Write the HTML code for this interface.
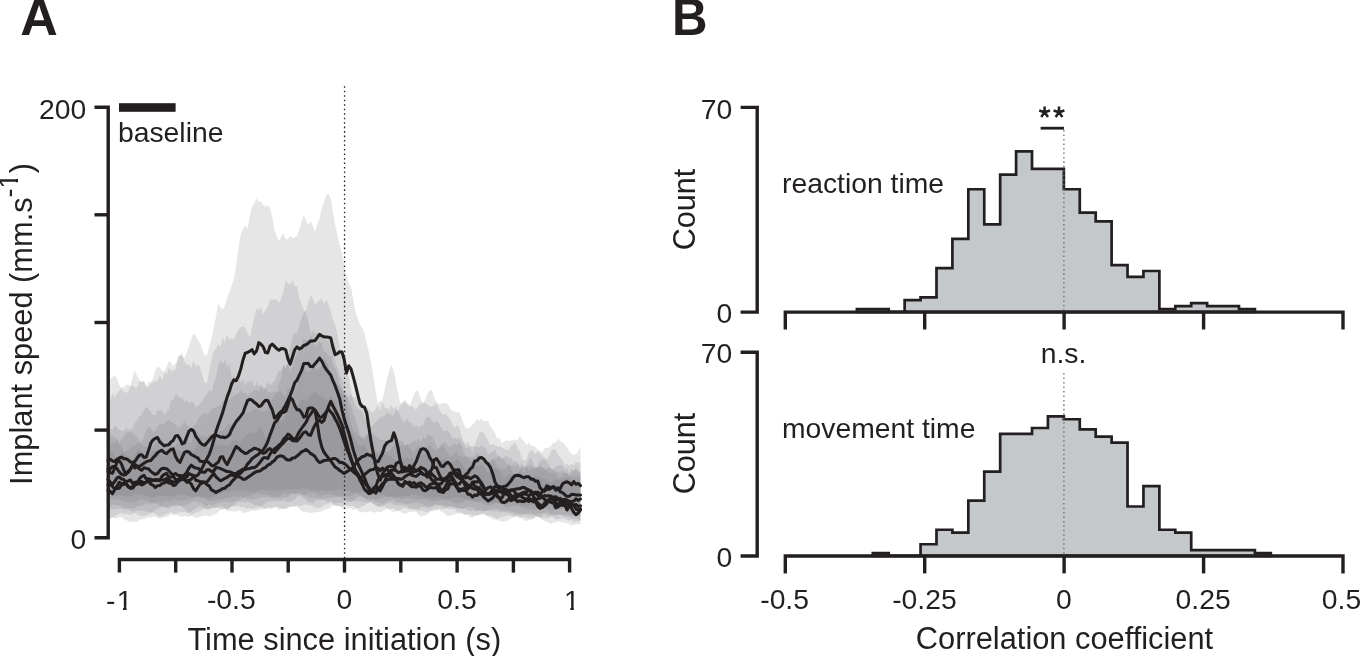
<!DOCTYPE html>
<html><head><meta charset="utf-8"><title>Figure</title>
<style>html,body{margin:0;padding:0;background:#fff;}body{width:1361px;height:656px;overflow:hidden;}svg{display:block;will-change:transform;}text{font-family:"Liberation Sans",sans-serif;fill:#231f20;}</style>
</head><body>
<svg width="1361" height="656" viewBox="0 0 1361 656">
<rect width="1361" height="656" fill="#fff"/>
<text x="39.05" y="34.8" font-size="52" font-weight="bold" text-anchor="middle">A</text>
<text transform="translate(672 34.8) scale(0.945 1)" font-size="52" font-weight="bold">B</text>
<g clip-path="url(#clipA)">
<clipPath id="clipA"><rect x="108" y="100" width="473.2" height="450"/></clipPath>
<path d="M108.0 381.5 L110.2 379.2 L112.5 377.1 L114.8 375.7 L117.0 378.5 L119.2 385.2 L121.5 389.2 L123.8 391.4 L126.0 393.0 L128.2 391.8 L130.5 385.3 L132.8 376.5 L135.0 370.6 L137.2 375.9 L139.5 380.2 L141.8 382.3 L144.0 380.9 L146.2 386.6 L148.5 387.2 L150.8 383.4 L153.0 378.6 L155.2 370.8 L157.5 366.4 L159.8 367.5 L162.0 370.8 L164.2 371.6 L166.5 366.7 L168.8 361.6 L171.0 362.4 L173.2 366.5 L175.5 363.6 L177.8 359.6 L180.0 354.2 L182.2 356.9 L184.5 357.7 L186.8 352.3 L189.0 346.8 L191.2 338.5 L193.5 333.6 L195.8 335.4 L198.0 340.2 L200.2 343.0 L202.5 350.7 L204.8 355.5 L207.0 355.5 L209.2 346.5 L211.5 339.1 L213.8 326.6 L216.0 316.7 L218.2 303.3 L220.5 307.8 L222.8 309.5 L225.0 305.3 L227.2 297.5 L229.5 291.9 L231.8 285.3 L234.0 278.2 L236.2 264.3 L238.5 247.3 L240.8 234.4 L243.0 228.8 L245.2 225.2 L247.5 228.5 L249.8 216.5 L252.0 206.9 L254.2 203.6 L256.5 198.6 L258.8 201.4 L261.0 201.4 L263.2 205.1 L265.5 206.8 L267.8 205.3 L270.0 207.9 L272.2 216.7 L274.5 229.9 L276.8 236.8 L279.0 240.9 L281.2 237.0 L283.5 233.3 L285.8 239.4 L288.0 238.9 L290.2 235.5 L292.5 237.9 L294.8 237.6 L297.0 235.9 L299.2 230.1 L301.5 221.6 L303.8 215.5 L306.0 220.2 L308.2 225.0 L310.5 221.3 L312.8 225.5 L315.0 232.2 L317.2 223.9 L319.5 218.5 L321.8 207.9 L324.0 202.2 L326.2 195.3 L328.5 193.2 L330.8 198.7 L333.0 213.0 L335.2 225.1 L337.5 235.6 L339.8 245.0 L342.0 252.9 L344.2 267.5 L346.5 275.5 L348.8 283.5 L351.0 287.3 L353.2 299.5 L355.5 311.9 L357.8 318.4 L360.0 324.5 L362.2 328.0 L364.5 333.3 L366.8 343.1 L369.0 352.7 L371.2 362.5 L373.5 378.2 L375.8 391.7 L378.0 406.4 L380.2 410.9 L382.5 399.2 L384.8 389.1 L387.0 379.2 L389.2 370.6 L391.5 364.4 L393.8 371.4 L396.0 382.2 L398.2 394.6 L400.5 405.3 L402.8 403.7 L405.0 401.9 L407.2 404.7 L409.5 407.3 L411.8 400.8 L414.0 394.5 L416.2 389.9 L418.5 392.1 L420.8 399.1 L423.0 404.2 L425.2 399.5 L427.5 393.3 L429.8 389.9 L432.0 390.4 L434.2 398.1 L436.5 401.8 L438.8 404.1 L441.0 403.9 L443.2 402.9 L445.5 402.9 L447.8 403.9 L450.0 408.1 L452.2 410.9 L454.5 411.3 L456.8 412.8 L459.0 411.8 L461.2 416.8 L463.5 422.9 L465.8 428.3 L468.0 428.4 L470.2 426.9 L472.5 424.8 L474.8 422.5 L477.0 419.0 L479.2 420.7 L481.5 418.4 L483.8 421.1 L486.0 421.0 L488.2 421.0 L490.5 426.9 L492.8 429.3 L495.0 433.2 L497.2 438.5 L499.5 437.5 L501.8 443.5 L504.0 441.8 L506.2 440.2 L508.5 441.0 L510.8 440.7 L513.0 440.3 L515.2 439.4 L517.5 440.5 L519.8 435.9 L522.0 438.9 L524.2 441.0 L526.5 445.3 L528.8 442.5 L531.0 445.8 L533.2 445.8 L535.5 447.3 L537.8 449.9 L540.0 450.6 L542.2 452.4 L544.5 448.5 L546.8 448.0 L549.0 447.5 L551.2 445.6 L553.5 442.5 L555.8 442.6 L558.0 438.5 L560.2 441.5 L562.5 442.3 L564.8 444.8 L567.0 448.0 L569.2 451.1 L571.5 454.6 L573.8 454.7 L576.0 454.1 L578.2 451.6 L580.5 446.1 L580.5 524.1 L578.2 523.9 L576.0 524.6 L573.8 524.7 L571.5 525.4 L569.2 524.3 L567.0 523.3 L564.8 522.5 L562.5 522.6 L560.2 521.4 L558.0 521.7 L555.8 521.9 L553.5 522.5 L551.2 523.9 L549.0 522.8 L546.8 522.0 L544.5 520.9 L542.2 519.9 L540.0 517.6 L537.8 516.6 L535.5 517.0 L533.2 519.3 L531.0 519.4 L528.8 519.9 L526.5 521.2 L524.2 519.9 L522.0 517.9 L519.8 516.2 L517.5 515.8 L515.2 516.2 L513.0 517.6 L510.8 518.7 L508.5 520.1 L506.2 521.4 L504.0 521.2 L501.8 521.4 L499.5 520.9 L497.2 519.4 L495.0 517.7 L492.8 516.8 L490.5 516.0 L488.2 515.2 L486.0 516.1 L483.8 514.1 L481.5 513.6 L479.2 514.5 L477.0 514.9 L474.8 514.9 L472.5 517.9 L470.2 516.9 L468.0 515.5 L465.8 515.1 L463.5 514.1 L461.2 512.9 L459.0 513.7 L456.8 513.8 L454.5 514.6 L452.2 514.6 L450.0 516.0 L447.8 515.5 L445.5 515.1 L443.2 512.2 L441.0 511.6 L438.8 509.3 L436.5 509.8 L434.2 508.8 L432.0 510.6 L429.8 511.8 L427.5 514.7 L425.2 515.3 L423.0 516.0 L420.8 516.4 L418.5 514.8 L416.2 511.7 L414.0 511.4 L411.8 512.5 L409.5 511.5 L407.2 512.9 L405.0 514.1 L402.8 513.2 L400.5 511.5 L398.2 511.2 L396.0 510.0 L393.8 508.2 L391.5 508.3 L389.2 509.4 L387.0 509.3 L384.8 510.0 L382.5 511.5 L380.2 512.2 L378.0 511.8 L375.8 512.5 L373.5 512.4 L371.2 511.3 L369.0 511.6 L366.8 512.3 L364.5 511.7 L362.2 512.6 L360.0 512.1 L357.8 511.0 L355.5 508.7 L353.2 510.0 L351.0 508.1 L348.8 508.4 L346.5 508.8 L344.2 509.9 L342.0 507.6 L339.8 506.5 L337.5 505.9 L335.2 505.5 L333.0 505.3 L330.8 506.9 L328.5 508.9 L326.2 509.5 L324.0 510.0 L321.8 511.3 L319.5 512.3 L317.2 511.9 L315.0 512.3 L312.8 512.8 L310.5 512.9 L308.2 512.6 L306.0 511.8 L303.8 512.0 L301.5 510.9 L299.2 508.9 L297.0 506.2 L294.8 506.8 L292.5 506.4 L290.2 506.1 L288.0 508.1 L285.8 509.0 L283.5 509.1 L281.2 508.7 L279.0 509.9 L276.8 507.2 L274.5 508.0 L272.2 508.2 L270.0 509.2 L267.8 507.4 L265.5 509.3 L263.2 507.8 L261.0 507.2 L258.8 506.7 L256.5 508.4 L254.2 507.5 L252.0 510.6 L249.8 511.3 L247.5 512.5 L245.2 512.5 L243.0 513.5 L240.8 511.0 L238.5 510.6 L236.2 511.7 L234.0 511.3 L231.8 511.2 L229.5 510.9 L227.2 510.8 L225.0 509.0 L222.8 509.1 L220.5 509.2 L218.2 512.0 L216.0 513.7 L213.8 514.7 L211.5 515.8 L209.2 516.4 L207.0 515.7 L204.8 515.3 L202.5 516.3 L200.2 516.5 L198.0 517.7 L195.8 517.5 L193.5 516.8 L191.2 515.9 L189.0 516.7 L186.8 516.3 L184.5 515.5 L182.2 516.9 L180.0 516.4 L177.8 515.0 L175.5 515.0 L173.2 515.0 L171.0 514.0 L168.8 515.7 L166.5 517.5 L164.2 517.2 L162.0 517.8 L159.8 518.7 L157.5 517.4 L155.2 517.3 L153.0 516.6 L150.8 518.0 L148.5 517.1 L146.2 518.4 L144.0 518.6 L141.8 519.4 L139.5 519.2 L137.2 522.0 L135.0 521.8 L132.8 521.9 L130.5 521.4 L128.2 521.6 L126.0 519.7 L123.8 519.5 L121.5 517.1 L119.2 517.1 L117.0 518.4 L114.8 518.0 L112.5 517.4 L110.2 518.6 L108.0 519.1Z" fill="#6a6d72" fill-opacity="0.17"/>
<path d="M108.0 399.3 L110.2 399.6 L112.5 393.0 L114.8 398.1 L117.0 392.7 L119.2 391.3 L121.5 386.7 L123.8 387.4 L126.0 385.1 L128.2 384.8 L130.5 386.3 L132.8 385.1 L135.0 387.8 L137.2 387.5 L139.5 380.7 L141.8 382.2 L144.0 380.8 L146.2 386.7 L148.5 381.8 L150.8 381.9 L153.0 382.8 L155.2 380.7 L157.5 382.1 L159.8 375.4 L162.0 380.0 L164.2 372.7 L166.5 374.2 L168.8 368.1 L171.0 371.6 L173.2 370.1 L175.5 370.3 L177.8 356.8 L180.0 355.7 L182.2 352.3 L184.5 361.2 L186.8 365.5 L189.0 363.7 L191.2 368.2 L193.5 360.2 L195.8 367.1 L198.0 364.1 L200.2 367.4 L202.5 375.9 L204.8 382.9 L207.0 382.9 L209.2 371.0 L211.5 359.4 L213.8 351.3 L216.0 348.8 L218.2 344.3 L220.5 346.4 L222.8 337.3 L225.0 342.4 L227.2 334.1 L229.5 340.2 L231.8 337.9 L234.0 339.5 L236.2 333.5 L238.5 329.5 L240.8 327.2 L243.0 326.2 L245.2 327.9 L247.5 332.9 L249.8 337.5 L252.0 327.4 L254.2 317.7 L256.5 307.9 L258.8 310.3 L261.0 307.6 L263.2 314.6 L265.5 310.5 L267.8 306.6 L270.0 300.2 L272.2 299.2 L274.5 299.8 L276.8 299.2 L279.0 303.6 L281.2 298.2 L283.5 291.9 L285.8 280.4 L288.0 284.0 L290.2 284.5 L292.5 280.4 L294.8 286.1 L297.0 285.9 L299.2 298.3 L301.5 304.6 L303.8 310.1 L306.0 313.0 L308.2 319.9 L310.5 331.9 L312.8 341.1 L315.0 346.0 L317.2 343.7 L319.5 341.4 L321.8 343.5 L324.0 351.4 L326.2 351.9 L328.5 356.0 L330.8 356.0 L333.0 364.7 L335.2 368.7 L337.5 374.1 L339.8 384.8 L342.0 391.0 L344.2 396.3 L346.5 394.0 L348.8 396.2 L351.0 394.9 L353.2 397.8 L355.5 396.7 L357.8 400.7 L360.0 405.8 L362.2 408.7 L364.5 408.7 L366.8 407.8 L369.0 409.4 L371.2 412.0 L373.5 411.7 L375.8 409.3 L378.0 403.0 L380.2 400.5 L382.5 401.4 L384.8 407.9 L387.0 408.1 L389.2 409.2 L391.5 405.0 L393.8 409.5 L396.0 405.7 L398.2 411.4 L400.5 403.1 L402.8 402.0 L405.0 398.9 L407.2 402.8 L409.5 404.8 L411.8 406.3 L414.0 408.0 L416.2 409.7 L418.5 405.9 L420.8 403.4 L423.0 402.4 L425.2 403.0 L427.5 404.2 L429.8 406.6 L432.0 406.7 L434.2 405.2 L436.5 403.3 L438.8 408.6 L441.0 412.3 L443.2 415.2 L445.5 413.4 L447.8 416.6 L450.0 418.8 L452.2 423.5 L454.5 428.4 L456.8 425.3 L459.0 426.4 L461.2 434.6 L463.5 441.1 L465.8 444.2 L468.0 441.5 L470.2 446.8 L472.5 452.0 L474.8 444.6 L477.0 439.1 L479.2 432.9 L481.5 431.9 L483.8 433.2 L486.0 436.8 L488.2 441.1 L490.5 445.4 L492.8 444.1 L495.0 445.3 L497.2 446.2 L499.5 446.6 L501.8 447.4 L504.0 448.2 L506.2 449.8 L508.5 449.9 L510.8 445.9 L513.0 445.2 L515.2 441.9 L517.5 448.5 L519.8 451.3 L522.0 459.1 L524.2 460.8 L526.5 459.7 L528.8 452.5 L531.0 450.3 L533.2 451.2 L535.5 454.2 L537.8 450.8 L540.0 453.7 L542.2 455.1 L544.5 459.3 L546.8 459.1 L549.0 456.8 L551.2 450.6 L553.5 449.3 L555.8 450.2 L558.0 454.7 L560.2 458.0 L562.5 459.6 L564.8 465.0 L567.0 463.5 L569.2 465.9 L571.5 463.8 L573.8 465.9 L576.0 461.4 L578.2 463.3 L580.5 461.7 L580.5 521.5 L578.2 521.2 L576.0 521.6 L573.8 522.4 L571.5 520.0 L569.2 520.7 L567.0 519.9 L564.8 518.5 L562.5 517.8 L560.2 519.0 L558.0 519.3 L555.8 519.5 L553.5 518.0 L551.2 515.3 L549.0 516.0 L546.8 515.8 L544.5 513.7 L542.2 515.5 L540.0 517.5 L537.8 516.6 L535.5 516.8 L533.2 518.6 L531.0 518.4 L528.8 518.8 L526.5 517.8 L524.2 517.3 L522.0 518.3 L519.8 518.4 L517.5 516.9 L515.2 517.1 L513.0 516.8 L510.8 515.8 L508.5 514.9 L506.2 515.8 L504.0 516.2 L501.8 517.1 L499.5 517.0 L497.2 519.4 L495.0 519.6 L492.8 519.2 L490.5 517.6 L488.2 516.8 L486.0 514.4 L483.8 514.1 L481.5 514.7 L479.2 514.9 L477.0 516.1 L474.8 516.0 L472.5 516.0 L470.2 514.0 L468.0 514.1 L465.8 514.5 L463.5 514.3 L461.2 512.7 L459.0 512.6 L456.8 511.5 L454.5 508.8 L452.2 508.8 L450.0 509.3 L447.8 508.5 L445.5 508.4 L443.2 509.1 L441.0 509.2 L438.8 508.5 L436.5 510.5 L434.2 511.3 L432.0 511.1 L429.8 510.9 L427.5 512.2 L425.2 511.7 L423.0 510.7 L420.8 510.4 L418.5 511.0 L416.2 510.3 L414.0 509.5 L411.8 508.2 L409.5 509.9 L407.2 508.6 L405.0 507.5 L402.8 508.3 L400.5 510.0 L398.2 510.3 L396.0 511.4 L393.8 511.9 L391.5 511.3 L389.2 509.5 L387.0 507.9 L384.8 506.6 L382.5 507.1 L380.2 506.2 L378.0 506.7 L375.8 504.5 L373.5 504.3 L371.2 502.3 L369.0 502.3 L366.8 503.8 L364.5 505.7 L362.2 506.2 L360.0 508.3 L357.8 508.2 L355.5 507.8 L353.2 505.7 L351.0 506.6 L348.8 505.2 L346.5 505.6 L344.2 505.0 L342.0 507.1 L339.8 505.6 L337.5 506.0 L335.2 506.1 L333.0 504.4 L330.8 502.7 L328.5 503.6 L326.2 504.7 L324.0 504.6 L321.8 507.2 L319.5 508.1 L317.2 508.1 L315.0 507.3 L312.8 506.2 L310.5 504.9 L308.2 505.5 L306.0 504.5 L303.8 504.7 L301.5 505.8 L299.2 506.2 L297.0 505.6 L294.8 506.6 L292.5 506.5 L290.2 507.0 L288.0 507.3 L285.8 508.6 L283.5 508.5 L281.2 508.9 L279.0 507.3 L276.8 506.7 L274.5 506.5 L272.2 507.6 L270.0 507.4 L267.8 508.0 L265.5 508.9 L263.2 509.2 L261.0 509.5 L258.8 509.5 L256.5 510.5 L254.2 511.1 L252.0 509.2 L249.8 507.8 L247.5 509.1 L245.2 508.2 L243.0 506.6 L240.8 507.3 L238.5 506.3 L236.2 506.3 L234.0 506.2 L231.8 506.3 L229.5 508.2 L227.2 510.2 L225.0 508.6 L222.8 510.1 L220.5 509.3 L218.2 507.8 L216.0 508.1 L213.8 507.9 L211.5 507.0 L209.2 508.7 L207.0 509.1 L204.8 508.3 L202.5 509.3 L200.2 511.3 L198.0 511.9 L195.8 512.5 L193.5 513.6 L191.2 514.5 L189.0 513.0 L186.8 512.7 L184.5 511.8 L182.2 512.5 L180.0 511.7 L177.8 512.8 L175.5 513.0 L173.2 513.5 L171.0 511.8 L168.8 513.3 L166.5 513.7 L164.2 514.7 L162.0 515.8 L159.8 517.0 L157.5 515.4 L155.2 513.9 L153.0 512.7 L150.8 513.6 L148.5 514.3 L146.2 515.5 L144.0 516.1 L141.8 515.7 L139.5 515.6 L137.2 514.1 L135.0 513.0 L132.8 513.7 L130.5 515.5 L128.2 513.9 L126.0 513.9 L123.8 514.1 L121.5 513.3 L119.2 513.5 L117.0 514.7 L114.8 516.3 L112.5 517.5 L110.2 518.1 L108.0 517.1Z" fill="#6a6d72" fill-opacity="0.17"/>
<path d="M108.0 430.9 L110.2 428.0 L112.5 430.3 L114.8 425.7 L117.0 427.4 L119.2 429.8 L121.5 430.8 L123.8 431.2 L126.0 427.5 L128.2 430.0 L130.5 429.4 L132.8 428.3 L135.0 421.5 L137.2 419.9 L139.5 416.3 L141.8 414.5 L144.0 410.6 L146.2 406.4 L148.5 408.9 L150.8 412.1 L153.0 415.0 L155.2 415.0 L157.5 410.7 L159.8 410.5 L162.0 410.1 L164.2 415.2 L166.5 412.1 L168.8 409.4 L171.0 400.5 L173.2 400.6 L175.5 394.3 L177.8 394.9 L180.0 398.4 L182.2 397.3 L184.5 402.5 L186.8 399.2 L189.0 403.5 L191.2 401.4 L193.5 402.3 L195.8 407.1 L198.0 406.0 L200.2 403.7 L202.5 399.9 L204.8 395.8 L207.0 394.0 L209.2 390.1 L211.5 392.6 L213.8 382.9 L216.0 376.8 L218.2 365.7 L220.5 360.2 L222.8 364.4 L225.0 359.3 L227.2 367.4 L229.5 363.2 L231.8 377.8 L234.0 375.2 L236.2 381.4 L238.5 376.2 L240.8 383.0 L243.0 379.3 L245.2 384.6 L247.5 382.1 L249.8 382.3 L252.0 380.0 L254.2 387.8 L256.5 382.0 L258.8 386.2 L261.0 384.6 L263.2 391.0 L265.5 387.7 L267.8 381.4 L270.0 385.2 L272.2 382.7 L274.5 381.3 L276.8 374.2 L279.0 371.3 L281.2 369.8 L283.5 366.0 L285.8 368.6 L288.0 359.6 L290.2 347.8 L292.5 337.3 L294.8 332.7 L297.0 334.5 L299.2 324.6 L301.5 318.6 L303.8 312.6 L306.0 310.0 L308.2 303.2 L310.5 295.2 L312.8 298.4 L315.0 304.6 L317.2 302.4 L319.5 300.1 L321.8 298.4 L324.0 304.5 L326.2 299.3 L328.5 304.6 L330.8 311.7 L333.0 320.6 L335.2 325.1 L337.5 334.3 L339.8 348.0 L342.0 358.0 L344.2 362.6 L346.5 368.6 L348.8 377.3 L351.0 390.9 L353.2 399.4 L355.5 405.8 L357.8 409.0 L360.0 409.8 L362.2 411.8 L364.5 417.9 L366.8 423.1 L369.0 427.5 L371.2 426.7 L373.5 424.2 L375.8 422.1 L378.0 419.4 L380.2 417.7 L382.5 416.2 L384.8 415.8 L387.0 412.3 L389.2 414.2 L391.5 414.4 L393.8 415.2 L396.0 410.1 L398.2 410.9 L400.5 417.1 L402.8 421.7 L405.0 421.6 L407.2 418.8 L409.5 423.0 L411.8 423.0 L414.0 427.3 L416.2 424.5 L418.5 428.3 L420.8 425.5 L423.0 425.2 L425.2 419.1 L427.5 417.0 L429.8 416.6 L432.0 421.1 L434.2 422.9 L436.5 421.6 L438.8 423.3 L441.0 427.3 L443.2 430.8 L445.5 431.1 L447.8 430.2 L450.0 434.0 L452.2 437.9 L454.5 438.3 L456.8 438.9 L459.0 438.1 L461.2 440.1 L463.5 443.7 L465.8 447.5 L468.0 448.1 L470.2 446.0 L472.5 445.9 L474.8 446.6 L477.0 446.7 L479.2 447.7 L481.5 445.6 L483.8 447.5 L486.0 448.5 L488.2 454.7 L490.5 451.7 L492.8 451.7 L495.0 449.4 L497.2 454.7 L499.5 456.2 L501.8 459.6 L504.0 457.4 L506.2 455.4 L508.5 457.6 L510.8 458.0 L513.0 461.2 L515.2 461.0 L517.5 463.1 L519.8 468.2 L522.0 467.9 L524.2 474.1 L526.5 464.6 L528.8 459.8 L531.0 457.3 L533.2 463.6 L535.5 468.3 L537.8 466.1 L540.0 460.4 L542.2 459.9 L544.5 457.8 L546.8 461.9 L549.0 465.6 L551.2 468.3 L553.5 469.9 L555.8 466.4 L558.0 465.5 L560.2 465.0 L562.5 466.2 L564.8 470.3 L567.0 468.2 L569.2 473.4 L571.5 468.3 L573.8 473.0 L576.0 467.0 L578.2 473.2 L580.5 471.0 L580.5 520.3 L578.2 519.4 L576.0 519.1 L573.8 518.5 L571.5 518.8 L569.2 516.6 L567.0 516.8 L564.8 516.4 L562.5 514.8 L560.2 514.3 L558.0 514.0 L555.8 515.9 L553.5 515.3 L551.2 517.1 L549.0 517.6 L546.8 518.9 L544.5 517.5 L542.2 518.8 L540.0 517.5 L537.8 516.7 L535.5 515.5 L533.2 514.2 L531.0 513.0 L528.8 514.0 L526.5 513.2 L524.2 514.3 L522.0 515.5 L519.8 515.8 L517.5 514.6 L515.2 515.3 L513.0 514.1 L510.8 512.9 L508.5 513.3 L506.2 512.6 L504.0 512.0 L501.8 512.3 L499.5 512.4 L497.2 511.1 L495.0 511.8 L492.8 511.0 L490.5 511.4 L488.2 510.7 L486.0 510.6 L483.8 511.4 L481.5 511.3 L479.2 510.3 L477.0 511.0 L474.8 509.1 L472.5 507.6 L470.2 507.0 L468.0 506.5 L465.8 507.0 L463.5 509.1 L461.2 508.9 L459.0 508.7 L456.8 507.9 L454.5 507.0 L452.2 507.0 L450.0 506.1 L447.8 507.2 L445.5 508.1 L443.2 506.4 L441.0 505.7 L438.8 505.7 L436.5 505.9 L434.2 505.5 L432.0 507.5 L429.8 507.5 L427.5 508.6 L425.2 506.8 L423.0 507.2 L420.8 506.5 L418.5 508.9 L416.2 508.2 L414.0 509.4 L411.8 509.4 L409.5 508.0 L407.2 505.7 L405.0 505.8 L402.8 505.4 L400.5 504.9 L398.2 505.8 L396.0 505.3 L393.8 505.1 L391.5 503.6 L389.2 503.0 L387.0 503.8 L384.8 504.5 L382.5 505.6 L380.2 506.2 L378.0 506.9 L375.8 505.5 L373.5 503.9 L371.2 502.8 L369.0 502.6 L366.8 502.7 L364.5 502.6 L362.2 501.8 L360.0 501.5 L357.8 501.6 L355.5 501.3 L353.2 501.6 L351.0 502.0 L348.8 501.7 L346.5 501.6 L344.2 501.4 L342.0 502.5 L339.8 502.8 L337.5 502.9 L335.2 503.7 L333.0 503.0 L330.8 501.1 L328.5 502.3 L326.2 501.4 L324.0 499.8 L321.8 499.9 L319.5 500.3 L317.2 499.9 L315.0 501.1 L312.8 503.6 L310.5 503.1 L308.2 502.5 L306.0 499.9 L303.8 498.3 L301.5 496.2 L299.2 496.2 L297.0 496.5 L294.8 499.4 L292.5 500.4 L290.2 501.6 L288.0 501.8 L285.8 501.7 L283.5 500.1 L281.2 501.4 L279.0 501.1 L276.8 501.4 L274.5 501.1 L272.2 501.5 L270.0 501.6 L267.8 501.9 L265.5 503.4 L263.2 504.8 L261.0 506.3 L258.8 506.2 L256.5 504.9 L254.2 504.9 L252.0 503.7 L249.8 502.8 L247.5 501.6 L245.2 502.4 L243.0 501.6 L240.8 502.3 L238.5 501.7 L236.2 502.7 L234.0 505.6 L231.8 506.3 L229.5 507.7 L227.2 508.0 L225.0 508.6 L222.8 506.6 L220.5 506.6 L218.2 506.4 L216.0 507.6 L213.8 507.9 L211.5 508.7 L209.2 509.4 L207.0 509.0 L204.8 509.0 L202.5 507.5 L200.2 506.2 L198.0 506.7 L195.8 509.1 L193.5 509.8 L191.2 511.6 L189.0 512.7 L186.8 511.1 L184.5 508.5 L182.2 507.3 L180.0 505.3 L177.8 506.1 L175.5 506.7 L173.2 506.8 L171.0 506.5 L168.8 508.8 L166.5 507.1 L164.2 506.1 L162.0 506.6 L159.8 508.6 L157.5 508.3 L155.2 510.1 L153.0 512.0 L150.8 512.5 L148.5 511.9 L146.2 511.5 L144.0 510.9 L141.8 510.6 L139.5 510.7 L137.2 510.4 L135.0 510.8 L132.8 511.7 L130.5 510.3 L128.2 509.7 L126.0 509.6 L123.8 509.7 L121.5 508.7 L119.2 508.7 L117.0 508.7 L114.8 508.9 L112.5 509.4 L110.2 509.3 L108.0 510.5Z" fill="#6a6d72" fill-opacity="0.17"/>
<path d="M108.0 436.2 L110.2 435.2 L112.5 436.1 L114.8 437.3 L117.0 439.5 L119.2 442.5 L121.5 438.3 L123.8 437.5 L126.0 432.1 L128.2 432.5 L130.5 431.8 L132.8 433.5 L135.0 435.9 L137.2 437.0 L139.5 441.4 L141.8 441.9 L144.0 436.3 L146.2 430.8 L148.5 426.7 L150.8 428.8 L153.0 430.9 L155.2 431.3 L157.5 427.3 L159.8 424.3 L162.0 423.6 L164.2 425.0 L166.5 421.5 L168.8 420.1 L171.0 422.4 L173.2 423.0 L175.5 424.2 L177.8 428.1 L180.0 426.7 L182.2 425.0 L184.5 420.3 L186.8 425.4 L189.0 426.0 L191.2 430.5 L193.5 425.1 L195.8 424.8 L198.0 418.5 L200.2 416.6 L202.5 414.6 L204.8 412.8 L207.0 413.7 L209.2 412.9 L211.5 408.9 L213.8 408.1 L216.0 407.1 L218.2 406.2 L220.5 404.8 L222.8 400.6 L225.0 400.5 L227.2 398.2 L229.5 399.7 L231.8 397.4 L234.0 396.1 L236.2 394.4 L238.5 393.8 L240.8 390.0 L243.0 393.7 L245.2 392.5 L247.5 396.4 L249.8 392.9 L252.0 392.3 L254.2 390.0 L256.5 390.1 L258.8 391.5 L261.0 386.9 L263.2 386.8 L265.5 388.7 L267.8 391.8 L270.0 392.5 L272.2 392.5 L274.5 390.9 L276.8 391.8 L279.0 383.1 L281.2 378.3 L283.5 364.1 L285.8 366.5 L288.0 364.1 L290.2 371.7 L292.5 366.3 L294.8 358.6 L297.0 354.0 L299.2 347.9 L301.5 345.9 L303.8 338.7 L306.0 340.5 L308.2 339.6 L310.5 337.6 L312.8 329.4 L315.0 334.0 L317.2 332.5 L319.5 336.5 L321.8 335.3 L324.0 338.1 L326.2 340.6 L328.5 339.9 L330.8 344.8 L333.0 351.0 L335.2 361.4 L337.5 368.0 L339.8 374.2 L342.0 379.5 L344.2 388.2 L346.5 395.5 L348.8 401.1 L351.0 405.5 L353.2 413.7 L355.5 420.1 L357.8 426.4 L360.0 435.4 L362.2 437.6 L364.5 440.4 L366.8 435.0 L369.0 432.5 L371.2 434.2 L373.5 434.3 L375.8 436.8 L378.0 437.0 L380.2 439.6 L382.5 440.4 L384.8 438.9 L387.0 441.4 L389.2 442.4 L391.5 440.8 L393.8 438.6 L396.0 438.1 L398.2 440.6 L400.5 440.8 L402.8 441.3 L405.0 445.5 L407.2 444.5 L409.5 444.1 L411.8 442.1 L414.0 440.2 L416.2 441.3 L418.5 438.6 L420.8 441.6 L423.0 437.6 L425.2 439.0 L427.5 434.2 L429.8 435.7 L432.0 435.5 L434.2 440.2 L436.5 445.5 L438.8 449.7 L441.0 446.8 L443.2 442.3 L445.5 442.1 L447.8 446.4 L450.0 446.2 L452.2 445.6 L454.5 443.4 L456.8 445.3 L459.0 442.8 L461.2 445.1 L463.5 451.7 L465.8 455.6 L468.0 456.5 L470.2 457.6 L472.5 456.6 L474.8 457.2 L477.0 452.5 L479.2 455.1 L481.5 455.7 L483.8 459.9 L486.0 459.4 L488.2 462.0 L490.5 460.5 L492.8 460.3 L495.0 458.1 L497.2 458.0 L499.5 455.8 L501.8 458.2 L504.0 459.0 L506.2 464.2 L508.5 464.5 L510.8 465.6 L513.0 465.0 L515.2 466.7 L517.5 463.2 L519.8 466.0 L522.0 463.3 L524.2 467.8 L526.5 465.4 L528.8 466.6 L531.0 464.5 L533.2 468.3 L535.5 467.3 L537.8 466.8 L540.0 465.0 L542.2 467.9 L544.5 470.6 L546.8 468.7 L549.0 467.1 L551.2 468.9 L553.5 469.0 L555.8 471.6 L558.0 471.4 L560.2 473.8 L562.5 470.4 L564.8 472.9 L567.0 473.0 L569.2 475.9 L571.5 471.7 L573.8 469.8 L576.0 469.1 L578.2 470.3 L580.5 472.3 L580.5 516.3 L578.2 516.6 L576.0 515.2 L573.8 515.2 L571.5 515.7 L569.2 515.6 L567.0 513.9 L564.8 515.0 L562.5 515.5 L560.2 514.4 L558.0 515.2 L555.8 514.9 L553.5 514.1 L551.2 514.2 L549.0 513.3 L546.8 512.1 L544.5 512.6 L542.2 513.3 L540.0 513.2 L537.8 513.9 L535.5 514.9 L533.2 515.1 L531.0 515.7 L528.8 514.5 L526.5 514.7 L524.2 513.9 L522.0 513.7 L519.8 513.3 L517.5 513.2 L515.2 512.5 L513.0 512.0 L510.8 511.5 L508.5 510.7 L506.2 510.9 L504.0 510.7 L501.8 510.3 L499.5 509.8 L497.2 508.3 L495.0 508.4 L492.8 509.4 L490.5 509.4 L488.2 509.9 L486.0 510.8 L483.8 511.3 L481.5 509.4 L479.2 510.4 L477.0 510.8 L474.8 511.3 L472.5 510.3 L470.2 511.5 L468.0 510.2 L465.8 508.9 L463.5 508.9 L461.2 508.1 L459.0 508.0 L456.8 508.1 L454.5 507.5 L452.2 506.9 L450.0 506.7 L447.8 505.7 L445.5 505.6 L443.2 504.9 L441.0 504.7 L438.8 504.9 L436.5 504.0 L434.2 504.4 L432.0 506.2 L429.8 505.7 L427.5 506.2 L425.2 505.8 L423.0 504.4 L420.8 502.8 L418.5 502.8 L416.2 502.3 L414.0 503.2 L411.8 503.4 L409.5 503.9 L407.2 503.7 L405.0 503.8 L402.8 503.2 L400.5 502.6 L398.2 502.3 L396.0 501.9 L393.8 499.7 L391.5 500.1 L389.2 501.1 L387.0 501.3 L384.8 502.7 L382.5 503.8 L380.2 502.5 L378.0 502.0 L375.8 502.1 L373.5 500.6 L371.2 500.7 L369.0 500.7 L366.8 499.8 L364.5 497.4 L362.2 496.8 L360.0 495.9 L357.8 497.0 L355.5 498.5 L353.2 500.5 L351.0 500.8 L348.8 501.1 L346.5 499.8 L344.2 498.4 L342.0 497.1 L339.8 497.0 L337.5 497.1 L335.2 497.3 L333.0 497.4 L330.8 498.3 L328.5 498.1 L326.2 498.2 L324.0 498.8 L321.8 499.0 L319.5 498.3 L317.2 498.6 L315.0 498.4 L312.8 498.0 L310.5 498.6 L308.2 497.8 L306.0 496.5 L303.8 495.7 L301.5 494.0 L299.2 492.6 L297.0 493.3 L294.8 493.6 L292.5 493.4 L290.2 495.6 L288.0 496.8 L285.8 497.5 L283.5 497.5 L281.2 498.5 L279.0 498.5 L276.8 497.8 L274.5 497.7 L272.2 498.5 L270.0 497.7 L267.8 496.8 L265.5 497.4 L263.2 496.6 L261.0 497.8 L258.8 498.1 L256.5 499.5 L254.2 498.7 L252.0 499.8 L249.8 498.8 L247.5 499.1 L245.2 497.7 L243.0 498.3 L240.8 499.0 L238.5 500.3 L236.2 500.8 L234.0 502.1 L231.8 502.5 L229.5 502.3 L227.2 501.5 L225.0 501.9 L222.8 502.2 L220.5 502.6 L218.2 502.9 L216.0 503.9 L213.8 505.0 L211.5 505.2 L209.2 504.0 L207.0 505.9 L204.8 505.2 L202.5 503.7 L200.2 502.5 L198.0 503.1 L195.8 501.1 L193.5 501.6 L191.2 502.5 L189.0 504.1 L186.8 504.5 L184.5 505.3 L182.2 505.9 L180.0 506.0 L177.8 504.4 L175.5 505.2 L173.2 505.2 L171.0 505.3 L168.8 506.2 L166.5 507.8 L164.2 507.4 L162.0 506.4 L159.8 506.1 L157.5 504.8 L155.2 503.8 L153.0 503.3 L150.8 504.3 L148.5 503.4 L146.2 503.4 L144.0 504.6 L141.8 506.1 L139.5 505.2 L137.2 506.3 L135.0 507.7 L132.8 508.3 L130.5 508.1 L128.2 508.5 L126.0 507.8 L123.8 508.0 L121.5 506.2 L119.2 505.0 L117.0 505.0 L114.8 504.6 L112.5 505.0 L110.2 505.5 L108.0 505.9Z" fill="#6a6d72" fill-opacity="0.17"/>
<path d="M108.0 443.2 L110.2 444.6 L112.5 442.2 L114.8 444.3 L117.0 438.2 L119.2 445.3 L121.5 446.0 L123.8 453.5 L126.0 450.2 L128.2 450.6 L130.5 447.1 L132.8 446.3 L135.0 445.4 L137.2 443.0 L139.5 443.4 L141.8 444.2 L144.0 446.6 L146.2 446.1 L148.5 448.9 L150.8 448.5 L153.0 447.8 L155.2 443.2 L157.5 441.6 L159.8 441.7 L162.0 440.3 L164.2 445.2 L166.5 445.7 L168.8 446.4 L171.0 443.3 L173.2 447.0 L175.5 445.8 L177.8 442.8 L180.0 443.4 L182.2 440.5 L184.5 440.6 L186.8 436.5 L189.0 443.9 L191.2 442.4 L193.5 435.6 L195.8 431.8 L198.0 432.4 L200.2 436.2 L202.5 435.5 L204.8 436.7 L207.0 437.2 L209.2 434.5 L211.5 435.8 L213.8 437.4 L216.0 437.5 L218.2 433.0 L220.5 430.5 L222.8 430.5 L225.0 428.4 L227.2 424.3 L229.5 423.9 L231.8 424.3 L234.0 423.0 L236.2 419.7 L238.5 418.2 L240.8 417.3 L243.0 411.3 L245.2 413.5 L247.5 412.6 L249.8 413.4 L252.0 410.5 L254.2 409.4 L256.5 409.9 L258.8 408.8 L261.0 411.5 L263.2 411.3 L265.5 411.2 L267.8 409.7 L270.0 405.2 L272.2 399.6 L274.5 395.5 L276.8 392.8 L279.0 392.1 L281.2 391.6 L283.5 395.7 L285.8 395.7 L288.0 387.4 L290.2 388.5 L292.5 386.7 L294.8 390.6 L297.0 384.9 L299.2 378.3 L301.5 371.8 L303.8 366.3 L306.0 371.9 L308.2 371.2 L310.5 371.6 L312.8 366.3 L315.0 368.5 L317.2 369.3 L319.5 369.6 L321.8 365.1 L324.0 359.0 L326.2 360.6 L328.5 365.6 L330.8 376.5 L333.0 378.9 L335.2 381.6 L337.5 384.4 L339.8 385.9 L342.0 389.5 L344.2 392.4 L346.5 402.0 L348.8 414.4 L351.0 423.9 L353.2 430.8 L355.5 431.5 L357.8 434.9 L360.0 436.1 L362.2 439.4 L364.5 435.9 L366.8 435.7 L369.0 435.1 L371.2 441.5 L373.5 445.7 L375.8 450.4 L378.0 451.7 L380.2 450.2 L382.5 450.2 L384.8 451.0 L387.0 451.6 L389.2 451.8 L391.5 448.3 L393.8 445.8 L396.0 444.3 L398.2 443.3 L400.5 446.2 L402.8 445.3 L405.0 447.3 L407.2 443.6 L409.5 447.9 L411.8 449.7 L414.0 452.8 L416.2 447.9 L418.5 445.7 L420.8 447.5 L423.0 449.8 L425.2 450.5 L427.5 446.6 L429.8 444.5 L432.0 446.5 L434.2 450.6 L436.5 450.4 L438.8 447.2 L441.0 444.8 L443.2 446.1 L445.5 450.0 L447.8 452.4 L450.0 456.5 L452.2 455.3 L454.5 453.6 L456.8 451.2 L459.0 455.3 L461.2 457.1 L463.5 457.1 L465.8 455.9 L468.0 457.9 L470.2 460.3 L472.5 461.3 L474.8 458.8 L477.0 460.1 L479.2 456.4 L481.5 457.6 L483.8 456.1 L486.0 460.4 L488.2 463.1 L490.5 461.9 L492.8 458.6 L495.0 461.9 L497.2 467.3 L499.5 467.9 L501.8 469.9 L504.0 468.1 L506.2 468.4 L508.5 464.6 L510.8 467.3 L513.0 472.6 L515.2 475.1 L517.5 473.1 L519.8 469.8 L522.0 465.9 L524.2 466.8 L526.5 467.1 L528.8 470.4 L531.0 468.7 L533.2 469.1 L535.5 467.6 L537.8 468.0 L540.0 467.2 L542.2 467.3 L544.5 467.7 L546.8 471.0 L549.0 473.2 L551.2 473.1 L553.5 473.1 L555.8 473.6 L558.0 478.4 L560.2 477.4 L562.5 476.7 L564.8 473.1 L567.0 473.8 L569.2 475.2 L571.5 476.8 L573.8 476.3 L576.0 476.5 L578.2 476.5 L580.5 477.1 L580.5 514.0 L578.2 514.5 L576.0 513.7 L573.8 512.4 L571.5 511.4 L569.2 511.7 L567.0 510.1 L564.8 509.8 L562.5 508.8 L560.2 509.1 L558.0 509.8 L555.8 510.2 L553.5 510.7 L551.2 511.1 L549.0 510.2 L546.8 509.1 L544.5 508.4 L542.2 508.2 L540.0 508.1 L537.8 508.9 L535.5 508.7 L533.2 510.4 L531.0 509.5 L528.8 509.2 L526.5 508.5 L524.2 508.1 L522.0 507.2 L519.8 506.9 L517.5 505.6 L515.2 505.7 L513.0 506.2 L510.8 506.3 L508.5 506.8 L506.2 507.9 L504.0 505.7 L501.8 504.3 L499.5 503.1 L497.2 502.9 L495.0 502.8 L492.8 504.8 L490.5 505.9 L488.2 505.1 L486.0 505.0 L483.8 503.8 L481.5 502.9 L479.2 502.5 L477.0 502.1 L474.8 501.6 L472.5 500.9 L470.2 500.6 L468.0 499.7 L465.8 500.3 L463.5 501.9 L461.2 502.7 L459.0 503.5 L456.8 503.1 L454.5 503.3 L452.2 502.2 L450.0 500.8 L447.8 499.9 L445.5 500.4 L443.2 499.6 L441.0 499.8 L438.8 500.7 L436.5 501.3 L434.2 501.1 L432.0 501.5 L429.8 500.8 L427.5 500.2 L425.2 499.2 L423.0 499.4 L420.8 499.6 L418.5 499.2 L416.2 499.6 L414.0 499.2 L411.8 498.3 L409.5 498.5 L407.2 498.0 L405.0 497.6 L402.8 499.4 L400.5 499.0 L398.2 497.8 L396.0 497.9 L393.8 497.9 L391.5 496.7 L389.2 496.3 L387.0 497.1 L384.8 497.6 L382.5 498.0 L380.2 498.2 L378.0 499.3 L375.8 499.8 L373.5 498.8 L371.2 499.0 L369.0 498.6 L366.8 498.9 L364.5 497.4 L362.2 496.9 L360.0 495.8 L357.8 494.3 L355.5 494.3 L353.2 494.8 L351.0 496.5 L348.8 495.5 L346.5 496.4 L344.2 496.4 L342.0 496.5 L339.8 495.4 L337.5 496.1 L335.2 495.4 L333.0 494.9 L330.8 494.4 L328.5 493.4 L326.2 494.7 L324.0 495.1 L321.8 495.5 L319.5 495.6 L317.2 494.5 L315.0 492.5 L312.8 493.1 L310.5 492.6 L308.2 492.0 L306.0 494.3 L303.8 495.1 L301.5 494.7 L299.2 493.8 L297.0 494.6 L294.8 494.4 L292.5 494.0 L290.2 492.7 L288.0 493.7 L285.8 493.5 L283.5 493.4 L281.2 495.3 L279.0 496.8 L276.8 496.5 L274.5 497.0 L272.2 496.8 L270.0 495.2 L267.8 495.0 L265.5 495.0 L263.2 494.1 L261.0 493.5 L258.8 493.4 L256.5 493.6 L254.2 493.4 L252.0 494.5 L249.8 495.9 L247.5 496.8 L245.2 497.0 L243.0 497.5 L240.8 496.1 L238.5 497.1 L236.2 497.3 L234.0 496.5 L231.8 496.9 L229.5 498.5 L227.2 498.0 L225.0 497.9 L222.8 499.6 L220.5 500.0 L218.2 499.6 L216.0 500.2 L213.8 500.2 L211.5 501.0 L209.2 500.6 L207.0 500.3 L204.8 498.7 L202.5 498.3 L200.2 497.4 L198.0 496.5 L195.8 497.8 L193.5 498.1 L191.2 498.8 L189.0 499.9 L186.8 499.8 L184.5 500.6 L182.2 500.3 L180.0 501.0 L177.8 499.8 L175.5 500.8 L173.2 498.6 L171.0 501.7 L168.8 501.2 L166.5 501.0 L164.2 501.0 L162.0 503.2 L159.8 501.0 L157.5 502.0 L155.2 502.3 L153.0 503.0 L150.8 502.3 L148.5 501.1 L146.2 500.4 L144.0 500.0 L141.8 499.9 L139.5 499.3 L137.2 501.2 L135.0 501.4 L132.8 502.8 L130.5 501.8 L128.2 502.3 L126.0 501.4 L123.8 501.7 L121.5 500.4 L119.2 499.5 L117.0 499.5 L114.8 499.2 L112.5 498.6 L110.2 499.0 L108.0 500.4Z" fill="#6a6d72" fill-opacity="0.17"/>
<path d="M108.0 452.8 L110.2 451.5 L112.5 450.9 L114.8 456.6 L117.0 458.1 L119.2 455.2 L121.5 453.3 L123.8 451.3 L126.0 456.4 L128.2 455.5 L130.5 460.7 L132.8 458.0 L135.0 456.3 L137.2 450.3 L139.5 449.5 L141.8 451.7 L144.0 456.0 L146.2 456.7 L148.5 454.3 L150.8 452.7 L153.0 449.4 L155.2 451.2 L157.5 448.9 L159.8 453.8 L162.0 454.4 L164.2 456.2 L166.5 451.7 L168.8 450.7 L171.0 450.5 L173.2 451.2 L175.5 449.0 L177.8 450.4 L180.0 450.4 L182.2 452.1 L184.5 452.1 L186.8 450.1 L189.0 452.2 L191.2 451.4 L193.5 452.6 L195.8 447.7 L198.0 443.7 L200.2 446.2 L202.5 443.3 L204.8 446.8 L207.0 445.0 L209.2 447.7 L211.5 444.7 L213.8 443.2 L216.0 443.4 L218.2 445.3 L220.5 444.0 L222.8 445.7 L225.0 445.4 L227.2 445.8 L229.5 444.5 L231.8 441.0 L234.0 440.6 L236.2 439.5 L238.5 442.9 L240.8 441.8 L243.0 439.8 L245.2 435.6 L247.5 434.5 L249.8 432.0 L252.0 434.3 L254.2 432.6 L256.5 432.4 L258.8 426.8 L261.0 427.9 L263.2 433.0 L265.5 438.3 L267.8 437.7 L270.0 432.1 L272.2 425.7 L274.5 421.1 L276.8 420.3 L279.0 418.6 L281.2 422.4 L283.5 419.0 L285.8 415.9 L288.0 407.5 L290.2 403.3 L292.5 404.5 L294.8 406.7 L297.0 406.3 L299.2 401.1 L301.5 399.5 L303.8 399.4 L306.0 400.9 L308.2 398.9 L310.5 396.8 L312.8 392.7 L315.0 392.2 L317.2 393.0 L319.5 395.6 L321.8 396.2 L324.0 398.9 L326.2 399.2 L328.5 400.1 L330.8 396.2 L333.0 399.8 L335.2 401.4 L337.5 410.6 L339.8 414.9 L342.0 417.0 L344.2 418.6 L346.5 423.1 L348.8 428.3 L351.0 433.1 L353.2 434.6 L355.5 441.1 L357.8 444.4 L360.0 446.4 L362.2 446.0 L364.5 445.0 L366.8 449.7 L369.0 452.6 L371.2 455.0 L373.5 453.3 L375.8 452.9 L378.0 455.1 L380.2 457.0 L382.5 455.4 L384.8 454.7 L387.0 454.0 L389.2 456.7 L391.5 456.8 L393.8 459.0 L396.0 459.9 L398.2 461.5 L400.5 460.6 L402.8 458.0 L405.0 458.8 L407.2 457.7 L409.5 459.4 L411.8 458.1 L414.0 460.9 L416.2 460.2 L418.5 458.1 L420.8 455.6 L423.0 454.5 L425.2 454.2 L427.5 454.1 L429.8 458.0 L432.0 460.6 L434.2 462.1 L436.5 462.9 L438.8 461.8 L441.0 460.4 L443.2 458.8 L445.5 459.3 L447.8 461.7 L450.0 463.6 L452.2 461.5 L454.5 461.0 L456.8 458.7 L459.0 460.4 L461.2 462.0 L463.5 465.8 L465.8 469.5 L468.0 469.1 L470.2 470.2 L472.5 467.4 L474.8 468.1 L477.0 465.0 L479.2 466.2 L481.5 463.2 L483.8 466.8 L486.0 470.6 L488.2 474.6 L490.5 472.1 L492.8 470.3 L495.0 468.0 L497.2 468.9 L499.5 471.2 L501.8 475.4 L504.0 477.2 L506.2 476.6 L508.5 474.6 L510.8 474.7 L513.0 473.8 L515.2 475.1 L517.5 474.0 L519.8 476.0 L522.0 475.3 L524.2 476.8 L526.5 475.6 L528.8 478.4 L531.0 479.8 L533.2 479.2 L535.5 476.0 L537.8 475.9 L540.0 477.5 L542.2 478.8 L544.5 478.7 L546.8 481.2 L549.0 481.6 L551.2 483.5 L553.5 480.6 L555.8 480.5 L558.0 479.1 L560.2 479.8 L562.5 479.6 L564.8 477.8 L567.0 477.5 L569.2 477.8 L571.5 479.4 L573.8 481.5 L576.0 483.0 L578.2 484.7 L580.5 483.4 L580.5 506.5 L578.2 506.4 L576.0 506.4 L573.8 507.3 L571.5 507.6 L569.2 507.4 L567.0 506.9 L564.8 506.6 L562.5 506.1 L560.2 506.7 L558.0 505.8 L555.8 505.2 L553.5 504.9 L551.2 504.5 L549.0 504.1 L546.8 503.9 L544.5 504.6 L542.2 503.9 L540.0 504.0 L537.8 503.8 L535.5 504.5 L533.2 503.1 L531.0 504.7 L528.8 505.5 L526.5 505.5 L524.2 505.8 L522.0 506.5 L519.8 504.4 L517.5 502.3 L515.2 502.3 L513.0 501.8 L510.8 501.2 L508.5 502.2 L506.2 503.0 L504.0 502.7 L501.8 502.0 L499.5 503.7 L497.2 503.0 L495.0 502.7 L492.8 502.8 L490.5 502.3 L488.2 500.5 L486.0 500.4 L483.8 500.0 L481.5 499.9 L479.2 501.3 L477.0 501.5 L474.8 501.6 L472.5 501.6 L470.2 501.0 L468.0 499.5 L465.8 498.9 L463.5 498.3 L461.2 498.0 L459.0 496.9 L456.8 497.4 L454.5 498.1 L452.2 498.3 L450.0 499.0 L447.8 499.1 L445.5 499.0 L443.2 498.4 L441.0 497.5 L438.8 497.0 L436.5 498.0 L434.2 498.0 L432.0 497.5 L429.8 498.0 L427.5 498.2 L425.2 497.0 L423.0 496.7 L420.8 495.3 L418.5 495.6 L416.2 494.5 L414.0 495.2 L411.8 494.6 L409.5 496.1 L407.2 495.9 L405.0 495.6 L402.8 496.4 L400.5 496.2 L398.2 496.4 L396.0 497.3 L393.8 497.5 L391.5 496.6 L389.2 497.4 L387.0 496.3 L384.8 494.4 L382.5 494.7 L380.2 493.9 L378.0 492.9 L375.8 493.6 L373.5 493.9 L371.2 493.7 L369.0 493.6 L366.8 493.3 L364.5 492.0 L362.2 492.6 L360.0 492.5 L357.8 492.3 L355.5 492.3 L353.2 492.2 L351.0 491.5 L348.8 489.9 L346.5 489.9 L344.2 489.3 L342.0 490.1 L339.8 489.5 L337.5 489.6 L335.2 490.1 L333.0 490.9 L330.8 490.5 L328.5 490.5 L326.2 491.6 L324.0 490.7 L321.8 490.1 L319.5 490.7 L317.2 490.8 L315.0 490.3 L312.8 490.3 L310.5 489.9 L308.2 489.3 L306.0 488.5 L303.8 488.7 L301.5 489.1 L299.2 489.0 L297.0 489.3 L294.8 489.5 L292.5 489.3 L290.2 488.8 L288.0 489.2 L285.8 490.0 L283.5 490.3 L281.2 490.8 L279.0 491.4 L276.8 490.8 L274.5 490.5 L272.2 490.5 L270.0 490.6 L267.8 489.7 L265.5 490.5 L263.2 489.5 L261.0 489.9 L258.8 490.2 L256.5 491.7 L254.2 491.9 L252.0 492.5 L249.8 492.2 L247.5 491.2 L245.2 490.5 L243.0 490.5 L240.8 489.9 L238.5 490.0 L236.2 490.8 L234.0 490.7 L231.8 490.7 L229.5 491.6 L227.2 492.5 L225.0 492.2 L222.8 492.7 L220.5 493.9 L218.2 494.0 L216.0 495.0 L213.8 496.5 L211.5 497.6 L209.2 497.4 L207.0 498.2 L204.8 497.1 L202.5 496.8 L200.2 496.7 L198.0 496.4 L195.8 496.4 L193.5 497.0 L191.2 496.8 L189.0 496.0 L186.8 495.6 L184.5 494.8 L182.2 494.8 L180.0 494.0 L177.8 495.2 L175.5 496.1 L173.2 496.3 L171.0 496.1 L168.8 496.9 L166.5 495.9 L164.2 495.2 L162.0 495.6 L159.8 495.9 L157.5 496.3 L155.2 497.1 L153.0 497.4 L150.8 497.3 L148.5 496.7 L146.2 495.7 L144.0 495.0 L141.8 494.3 L139.5 493.7 L137.2 494.5 L135.0 494.5 L132.8 495.8 L130.5 497.1 L128.2 496.6 L126.0 496.4 L123.8 496.6 L121.5 495.2 L119.2 494.7 L117.0 497.0 L114.8 495.4 L112.5 495.2 L110.2 495.1 L108.0 494.9Z" fill="#6a6d72" fill-opacity="0.17"/>
</g>
<line x1="344.55" y1="86.3" x2="344.55" y2="558" stroke="#231f20" stroke-width="1.3" stroke-dasharray="1.55 2.93"/>
<path d="M108.0 484.8 L110.2 484.3 L112.5 486.5 L114.8 489.0 L117.0 488.4 L119.2 488.3 L121.5 484.9 L123.8 484.4 L126.0 483.4 L128.2 487.0 L130.5 487.2 L132.8 488.2 L135.0 485.0 L137.2 482.0 L139.5 480.9 L141.8 481.7 L144.0 482.8 L146.2 481.8 L148.5 478.8 L150.8 479.2 L153.0 480.6 L155.2 480.2 L157.5 480.6 L159.8 480.1 L162.0 480.0 L164.2 479.9 L166.5 478.6 L168.8 479.5 L171.0 481.0 L173.2 482.1 L175.5 482.0 L177.8 479.5 L180.0 478.7 L182.2 479.5 L184.5 478.9 L186.8 481.1 L189.0 480.1 L191.2 479.4 L193.5 476.4 L195.8 476.0 L198.0 475.0 L200.2 471.7 L202.5 467.4 L204.8 462.4 L207.0 458.5 L209.2 454.5 L211.5 447.9 L213.8 440.0 L216.0 431.4 L218.2 425.1 L220.5 418.8 L222.8 411.9 L225.0 404.3 L227.2 396.9 L229.5 390.9 L231.8 383.5 L234.0 379.9 L236.2 380.7 L238.5 376.0 L240.8 368.9 L243.0 360.0 L245.2 353.3 L247.5 352.5 L249.8 351.2 L252.0 349.7 L254.2 353.8 L256.5 351.1 L258.8 342.6 L261.0 344.3 L263.2 346.8 L265.5 352.6 L267.8 352.9 L270.0 346.1 L272.2 344.0 L274.5 346.4 L276.8 348.7 L279.0 350.2 L281.2 348.6 L283.5 348.7 L285.8 350.0 L288.0 359.1 L290.2 364.1 L292.5 356.8 L294.8 349.6 L297.0 346.9 L299.2 349.0 L301.5 347.9 L303.8 345.5 L306.0 344.7 L308.2 343.2 L310.5 341.0 L312.8 340.9 L315.0 340.6 L317.2 337.7 L319.5 334.3 L321.8 335.9 L324.0 336.9 L326.2 336.9 L328.5 337.2 L330.8 338.0 L333.0 347.3 L335.2 354.7 L337.5 353.5 L339.8 351.7 L342.0 351.9 L344.2 359.5 L346.5 373.1 L348.8 365.8 L351.0 368.9 L353.2 376.7 L355.5 385.4 L357.8 394.8 L360.0 403.5 L362.2 406.5 L364.5 407.2 L366.8 413.2 L369.0 428.1 L371.2 442.4 L373.5 454.4 L375.8 467.1 L378.0 474.5 L380.2 480.1 L382.5 473.9 L384.8 470.2 L387.0 467.4 L389.2 466.4 L391.5 466.1 L393.8 467.0 L396.0 470.7 L398.2 472.4 L400.5 472.1 L402.8 469.1 L405.0 470.0 L407.2 471.0 L409.5 471.1 L411.8 470.1 L414.0 465.5 L416.2 461.4 L418.5 455.0 L420.8 449.6 L423.0 448.6 L425.2 449.3 L427.5 451.9 L429.8 457.6 L432.0 460.8 L434.2 467.2 L436.5 467.7 L438.8 473.5 L441.0 477.9 L443.2 480.3 L445.5 480.4 L447.8 477.7 L450.0 475.7 L452.2 474.3 L454.5 469.9 L456.8 470.1 L459.0 469.8 L461.2 477.6 L463.5 476.2 L465.8 477.9 L468.0 476.8 L470.2 478.9 L472.5 477.4 L474.8 475.8 L477.0 476.8 L479.2 479.9 L481.5 485.1 L483.8 488.0 L486.0 489.5 L488.2 487.6 L490.5 486.9 L492.8 488.3 L495.0 490.5 L497.2 490.0 L499.5 488.4 L501.8 487.6 L504.0 486.3 L506.2 486.1 L508.5 483.7 L510.8 481.1 L513.0 477.7 L515.2 475.6 L517.5 475.2 L519.8 475.6 L522.0 476.8 L524.2 477.7 L526.5 476.7 L528.8 476.8 L531.0 479.1 L533.2 479.1 L535.5 481.3 L537.8 481.1 L540.0 487.8 L542.2 489.6 L544.5 491.1 L546.8 489.1 L549.0 489.5 L551.2 488.2 L553.5 486.9 L555.8 488.3 L558.0 489.4 L560.2 491.8 L562.5 492.6 L564.8 494.7 L567.0 496.4 L569.2 496.3 L571.5 494.3 L573.8 494.5 L576.0 495.0 L578.2 494.9 L580.5 495.1" fill="none" stroke="#231f20" stroke-width="3.05" stroke-linejoin="round" stroke-linecap="round"/>
<path d="M108.0 490.4 L110.2 491.4 L112.5 493.6 L114.8 489.4 L117.0 486.2 L119.2 482.3 L121.5 483.7 L123.8 483.2 L126.0 481.3 L128.2 481.0 L130.5 480.0 L132.8 483.6 L135.0 482.1 L137.2 484.3 L139.5 483.6 L141.8 484.9 L144.0 483.8 L146.2 482.3 L148.5 481.1 L150.8 484.3 L153.0 485.1 L155.2 487.6 L157.5 485.8 L159.8 485.6 L162.0 483.4 L164.2 483.1 L166.5 481.4 L168.8 482.9 L171.0 483.2 L173.2 485.4 L175.5 484.9 L177.8 481.9 L180.0 477.4 L182.2 477.6 L184.5 479.8 L186.8 482.3 L189.0 481.8 L191.2 484.0 L193.5 488.6 L195.8 490.8 L198.0 487.2 L200.2 484.2 L202.5 482.8 L204.8 482.0 L207.0 484.9 L209.2 485.9 L211.5 489.9 L213.8 491.0 L216.0 492.6 L218.2 491.1 L220.5 490.1 L222.8 488.5 L225.0 488.2 L227.2 486.0 L229.5 484.8 L231.8 481.6 L234.0 479.4 L236.2 477.0 L238.5 474.7 L240.8 473.0 L243.0 470.4 L245.2 468.1 L247.5 464.1 L249.8 461.6 L252.0 458.8 L254.2 457.1 L256.5 455.5 L258.8 453.9 L261.0 451.8 L263.2 450.0 L265.5 446.3 L267.8 441.5 L270.0 435.0 L272.2 429.2 L274.5 423.0 L276.8 420.6 L279.0 417.2 L281.2 413.4 L283.5 408.8 L285.8 404.7 L288.0 400.2 L290.2 395.3 L292.5 389.5 L294.8 382.5 L297.0 380.1 L299.2 375.4 L301.5 370.7 L303.8 363.6 L306.0 363.5 L308.2 363.3 L310.5 366.5 L312.8 366.7 L315.0 363.7 L317.2 361.3 L319.5 358.1 L321.8 361.2 L324.0 365.7 L326.2 369.4 L328.5 372.2 L330.8 375.2 L333.0 380.8 L335.2 385.9 L337.5 392.3 L339.8 399.1 L342.0 410.1 L344.2 418.7 L346.5 426.1 L348.8 432.8 L351.0 441.0 L353.2 449.6 L355.5 456.9 L357.8 463.3 L360.0 468.2 L362.2 472.9 L364.5 478.0 L366.8 483.9 L369.0 489.3 L371.2 493.0 L373.5 490.1 L375.8 486.9 L378.0 480.1 L380.2 477.5 L382.5 476.3 L384.8 475.4 L387.0 474.1 L389.2 473.5 L391.5 473.1 L393.8 476.3 L396.0 478.5 L398.2 483.5 L400.5 485.4 L402.8 484.8 L405.0 482.8 L407.2 482.7 L409.5 485.0 L411.8 486.8 L414.0 486.6 L416.2 487.3 L418.5 485.5 L420.8 486.5 L423.0 490.0 L425.2 490.8 L427.5 489.2 L429.8 487.3 L432.0 487.8 L434.2 488.0 L436.5 487.3 L438.8 491.2 L441.0 491.8 L443.2 492.5 L445.5 489.7 L447.8 489.0 L450.0 483.4 L452.2 483.9 L454.5 483.8 L456.8 487.5 L459.0 488.9 L461.2 489.2 L463.5 490.5 L465.8 490.3 L468.0 494.2 L470.2 494.4 L472.5 497.0 L474.8 494.9 L477.0 495.4 L479.2 492.8 L481.5 493.3 L483.8 497.1 L486.0 499.1 L488.2 501.0 L490.5 499.4 L492.8 497.9 L495.0 494.5 L497.2 492.2 L499.5 491.6 L501.8 491.1 L504.0 490.5 L506.2 489.9 L508.5 490.9 L510.8 489.8 L513.0 490.1 L515.2 492.6 L517.5 496.1 L519.8 494.1 L522.0 493.0 L524.2 492.1 L526.5 492.0 L528.8 490.4 L531.0 490.9 L533.2 495.7 L535.5 500.1 L537.8 503.2 L540.0 504.7 L542.2 507.5 L544.5 505.8 L546.8 503.6 L549.0 499.2 L551.2 498.4 L553.5 497.1 L555.8 496.8 L558.0 498.5 L560.2 500.7 L562.5 502.0 L564.8 502.2 L567.0 502.9 L569.2 504.9 L571.5 504.2 L573.8 505.3 L576.0 504.5 L578.2 506.4 L580.5 505.9" fill="none" stroke="#231f20" stroke-width="3.05" stroke-linejoin="round" stroke-linecap="round"/>
<path d="M108.0 460.5 L110.2 459.2 L112.5 460.9 L114.8 461.4 L117.0 459.3 L119.2 458.0 L121.5 457.1 L123.8 458.8 L126.0 458.8 L128.2 459.9 L130.5 462.1 L132.8 462.3 L135.0 461.4 L137.2 458.0 L139.5 455.0 L141.8 454.7 L144.0 457.4 L146.2 457.1 L148.5 450.6 L150.8 443.2 L153.0 439.9 L155.2 438.4 L157.5 437.5 L159.8 441.8 L162.0 443.9 L164.2 445.8 L166.5 445.1 L168.8 444.7 L171.0 441.9 L173.2 440.4 L175.5 435.9 L177.8 435.6 L180.0 438.9 L182.2 443.9 L184.5 442.8 L186.8 436.6 L189.0 431.1 L191.2 429.4 L193.5 430.9 L195.8 436.3 L198.0 439.4 L200.2 442.6 L202.5 444.6 L204.8 445.3 L207.0 442.9 L209.2 440.1 L211.5 437.2 L213.8 435.0 L216.0 435.3 L218.2 436.0 L220.5 437.2 L222.8 437.0 L225.0 437.7 L227.2 436.7 L229.5 434.6 L231.8 429.2 L234.0 425.3 L236.2 421.5 L238.5 418.7 L240.8 415.9 L243.0 412.9 L245.2 406.7 L247.5 400.6 L249.8 399.4 L252.0 400.1 L254.2 402.3 L256.5 404.0 L258.8 406.5 L261.0 405.9 L263.2 402.6 L265.5 400.2 L267.8 400.4 L270.0 405.2 L272.2 409.6 L274.5 418.2 L276.8 416.2 L279.0 413.6 L281.2 411.3 L283.5 412.5 L285.8 411.2 L288.0 404.9 L290.2 397.7 L292.5 399.7 L294.8 405.8 L297.0 409.8 L299.2 409.7 L301.5 412.6 L303.8 417.1 L306.0 415.7 L308.2 408.5 L310.5 407.9 L312.8 408.1 L315.0 409.9 L317.2 413.3 L319.5 417.2 L321.8 417.3 L324.0 414.6 L326.2 411.9 L328.5 409.1 L330.8 412.0 L333.0 414.5 L335.2 419.0 L337.5 423.1 L339.8 428.6 L342.0 435.1 L344.2 441.6 L346.5 448.7 L348.8 453.7 L351.0 459.9 L353.2 465.1 L355.5 470.3 L357.8 473.8 L360.0 477.5 L362.2 476.6 L364.5 474.7 L366.8 472.7 L369.0 470.8 L371.2 469.7 L373.5 469.4 L375.8 467.6 L378.0 468.3 L380.2 470.6 L382.5 468.1 L384.8 470.3 L387.0 468.9 L389.2 472.2 L391.5 469.9 L393.8 470.3 L396.0 463.8 L398.2 462.1 L400.5 462.1 L402.8 467.9 L405.0 467.2 L407.2 469.6 L409.5 469.5 L411.8 475.2 L414.0 475.9 L416.2 476.3 L418.5 474.5 L420.8 472.7 L423.0 473.7 L425.2 475.0 L427.5 477.2 L429.8 472.1 L432.0 468.9 L434.2 459.9 L436.5 458.6 L438.8 461.8 L441.0 466.0 L443.2 466.4 L445.5 463.8 L447.8 462.2 L450.0 464.1 L452.2 468.1 L454.5 472.5 L456.8 473.2 L459.0 476.1 L461.2 477.4 L463.5 481.2 L465.8 483.0 L468.0 485.2 L470.2 486.1 L472.5 488.5 L474.8 489.1 L477.0 489.4 L479.2 487.7 L481.5 490.5 L483.8 492.2 L486.0 493.9 L488.2 494.5 L490.5 492.8 L492.8 489.0 L495.0 486.6 L497.2 486.2 L499.5 486.2 L501.8 487.6 L504.0 489.2 L506.2 489.8 L508.5 490.4 L510.8 490.4 L513.0 490.1 L515.2 489.2 L517.5 488.7 L519.8 488.7 L522.0 487.6 L524.2 487.5 L526.5 488.9 L528.8 489.8 L531.0 491.7 L533.2 492.6 L535.5 493.7 L537.8 492.0 L540.0 495.3 L542.2 491.4 L544.5 490.9 L546.8 485.8 L549.0 486.9 L551.2 487.4 L553.5 486.7 L555.8 490.3 L558.0 487.8 L560.2 488.9 L562.5 483.9 L564.8 482.5 L567.0 481.8 L569.2 482.8 L571.5 484.8 L573.8 481.6 L576.0 484.3 L578.2 483.3 L580.5 485.6" fill="none" stroke="#231f20" stroke-width="3.05" stroke-linejoin="round" stroke-linecap="round"/>
<path d="M108.0 468.8 L110.2 472.7 L112.5 473.2 L114.8 468.2 L117.0 461.7 L119.2 460.5 L121.5 464.1 L123.8 470.2 L126.0 474.3 L128.2 471.2 L130.5 469.1 L132.8 465.2 L135.0 468.0 L137.2 466.5 L139.5 469.0 L141.8 470.3 L144.0 467.8 L146.2 468.4 L148.5 468.8 L150.8 471.4 L153.0 473.1 L155.2 474.4 L157.5 473.5 L159.8 470.5 L162.0 468.4 L164.2 468.3 L166.5 468.7 L168.8 470.7 L171.0 473.3 L173.2 475.0 L175.5 473.6 L177.8 475.2 L180.0 475.4 L182.2 476.2 L184.5 474.9 L186.8 472.2 L189.0 468.0 L191.2 465.2 L193.5 467.0 L195.8 468.1 L198.0 468.2 L200.2 470.4 L202.5 472.2 L204.8 472.2 L207.0 469.7 L209.2 469.7 L211.5 471.6 L213.8 470.8 L216.0 467.6 L218.2 467.7 L220.5 468.6 L222.8 469.7 L225.0 470.7 L227.2 471.5 L229.5 471.7 L231.8 472.6 L234.0 473.6 L236.2 473.4 L238.5 471.7 L240.8 470.5 L243.0 469.1 L245.2 469.6 L247.5 468.7 L249.8 468.5 L252.0 467.6 L254.2 467.8 L256.5 466.2 L258.8 463.8 L261.0 461.0 L263.2 458.0 L265.5 457.6 L267.8 458.5 L270.0 454.1 L272.2 451.3 L274.5 448.7 L276.8 447.3 L279.0 445.0 L281.2 443.5 L283.5 439.4 L285.8 437.1 L288.0 434.1 L290.2 435.5 L292.5 438.2 L294.8 439.2 L297.0 441.1 L299.2 438.6 L301.5 435.3 L303.8 432.4 L306.0 431.8 L308.2 434.7 L310.5 435.4 L312.8 429.7 L315.0 424.9 L317.2 421.8 L319.5 420.1 L321.8 422.4 L324.0 420.5 L326.2 413.1 L328.5 406.7 L330.8 401.3 L333.0 406.1 L335.2 410.3 L337.5 414.8 L339.8 420.0 L342.0 424.8 L344.2 434.0 L346.5 442.7 L348.8 451.5 L351.0 458.1 L353.2 465.1 L355.5 470.7 L357.8 474.9 L360.0 480.2 L362.2 484.4 L364.5 489.1 L366.8 491.4 L369.0 493.6 L371.2 492.3 L373.5 488.2 L375.8 486.0 L378.0 489.4 L380.2 490.9 L382.5 486.6 L384.8 481.4 L387.0 474.9 L389.2 475.4 L391.5 477.6 L393.8 479.3 L396.0 478.9 L398.2 478.5 L400.5 479.2 L402.8 478.8 L405.0 476.5 L407.2 475.1 L409.5 474.2 L411.8 472.5 L414.0 472.1 L416.2 470.4 L418.5 470.6 L420.8 467.4 L423.0 468.4 L425.2 469.6 L427.5 473.8 L429.8 476.4 L432.0 480.3 L434.2 480.7 L436.5 484.1 L438.8 484.1 L441.0 483.9 L443.2 481.0 L445.5 478.6 L447.8 476.3 L450.0 473.0 L452.2 473.0 L454.5 473.8 L456.8 476.5 L459.0 478.0 L461.2 479.3 L463.5 481.9 L465.8 486.8 L468.0 488.9 L470.2 485.8 L472.5 482.7 L474.8 481.7 L477.0 482.1 L479.2 480.3 L481.5 482.9 L483.8 486.9 L486.0 493.8 L488.2 494.1 L490.5 493.0 L492.8 491.3 L495.0 493.3 L497.2 496.7 L499.5 498.0 L501.8 498.0 L504.0 494.0 L506.2 494.1 L508.5 495.1 L510.8 500.6 L513.0 499.6 L515.2 498.9 L517.5 494.2 L519.8 494.7 L522.0 497.2 L524.2 498.5 L526.5 499.6 L528.8 497.9 L531.0 500.2 L533.2 498.7 L535.5 499.2 L537.8 498.7 L540.0 498.3 L542.2 496.7 L544.5 499.2 L546.8 501.1 L549.0 501.6 L551.2 498.1 L553.5 500.1 L555.8 502.4 L558.0 506.0 L560.2 501.6 L562.5 505.4 L564.8 504.7 L567.0 510.0 L569.2 506.0 L571.5 505.4 L573.8 505.3 L576.0 509.1 L578.2 510.1 L580.5 508.9" fill="none" stroke="#231f20" stroke-width="3.05" stroke-linejoin="round" stroke-linecap="round"/>
<path d="M108.0 471.4 L110.2 468.9 L112.5 466.6 L114.8 466.7 L117.0 468.7 L119.2 471.8 L121.5 474.1 L123.8 475.2 L126.0 473.4 L128.2 472.6 L130.5 469.2 L132.8 464.3 L135.0 464.5 L137.2 466.0 L139.5 466.6 L141.8 464.7 L144.0 463.2 L146.2 461.8 L148.5 460.9 L150.8 460.6 L153.0 457.8 L155.2 455.7 L157.5 452.8 L159.8 451.3 L162.0 450.2 L164.2 452.6 L166.5 453.6 L168.8 451.2 L171.0 449.4 L173.2 448.9 L175.5 456.3 L177.8 460.4 L180.0 462.4 L182.2 457.4 L184.5 452.4 L186.8 451.4 L189.0 452.0 L191.2 454.6 L193.5 455.6 L195.8 457.0 L198.0 458.2 L200.2 461.3 L202.5 461.5 L204.8 461.9 L207.0 461.1 L209.2 463.0 L211.5 465.4 L213.8 465.9 L216.0 463.8 L218.2 462.3 L220.5 457.1 L222.8 456.8 L225.0 461.6 L227.2 464.6 L229.5 459.7 L231.8 455.5 L234.0 450.6 L236.2 446.5 L238.5 448.2 L240.8 450.4 L243.0 452.0 L245.2 453.5 L247.5 453.0 L249.8 450.8 L252.0 449.8 L254.2 448.2 L256.5 448.8 L258.8 449.7 L261.0 451.7 L263.2 453.4 L265.5 452.4 L267.8 449.7 L270.0 448.5 L272.2 451.2 L274.5 452.7 L276.8 449.9 L279.0 447.4 L281.2 445.0 L283.5 442.8 L285.8 440.0 L288.0 438.4 L290.2 438.4 L292.5 440.5 L294.8 441.0 L297.0 436.1 L299.2 431.8 L301.5 428.5 L303.8 425.3 L306.0 422.3 L308.2 417.4 L310.5 414.4 L312.8 410.9 L315.0 410.5 L317.2 422.7 L319.5 437.9 L321.8 447.1 L324.0 452.3 L326.2 455.1 L328.5 458.1 L330.8 460.8 L333.0 464.1 L335.2 467.2 L337.5 468.5 L339.8 470.5 L342.0 472.0 L344.2 473.5 L346.5 471.8 L348.8 470.5 L351.0 469.3 L353.2 467.3 L355.5 463.7 L357.8 460.6 L360.0 458.4 L362.2 456.8 L364.5 456.1 L366.8 454.2 L369.0 455.0 L371.2 455.4 L373.5 457.8 L375.8 461.2 L378.0 461.7 L380.2 457.6 L382.5 453.2 L384.8 445.8 L387.0 442.6 L389.2 441.5 L391.5 440.4 L393.8 432.8 L396.0 439.0 L398.2 448.9 L400.5 462.4 L402.8 471.9 L405.0 471.3 L407.2 470.6 L409.5 465.6 L411.8 468.0 L414.0 468.8 L416.2 471.3 L418.5 469.2 L420.8 471.6 L423.0 474.6 L425.2 474.8 L427.5 473.2 L429.8 471.4 L432.0 474.5 L434.2 476.3 L436.5 479.1 L438.8 479.1 L441.0 479.5 L443.2 478.7 L445.5 478.4 L447.8 476.9 L450.0 477.0 L452.2 476.9 L454.5 481.1 L456.8 484.3 L459.0 484.1 L461.2 481.8 L463.5 477.4 L465.8 474.4 L468.0 472.8 L470.2 469.0 L472.5 467.1 L474.8 461.1 L477.0 460.7 L479.2 458.1 L481.5 457.5 L483.8 459.0 L486.0 462.2 L488.2 464.0 L490.5 467.6 L492.8 474.0 L495.0 482.0 L497.2 485.8 L499.5 490.2 L501.8 492.8 L504.0 493.4 L506.2 491.4 L508.5 491.7 L510.8 495.1 L513.0 497.1 L515.2 495.1 L517.5 497.0 L519.8 495.0 L522.0 495.2 L524.2 493.4 L526.5 494.5 L528.8 495.7 L531.0 494.1 L533.2 494.4 L535.5 492.2 L537.8 495.5 L540.0 495.0 L542.2 496.8 L544.5 495.6 L546.8 495.9 L549.0 495.7 L551.2 496.3 L553.5 499.2 L555.8 499.3 L558.0 499.7 L560.2 498.4 L562.5 500.0 L564.8 499.2 L567.0 500.2 L569.2 501.3 L571.5 501.7 L573.8 501.1 L576.0 498.8 L578.2 500.4 L580.5 499.0" fill="none" stroke="#231f20" stroke-width="3.05" stroke-linejoin="round" stroke-linecap="round"/>
<path d="M108.0 479.5 L110.2 482.0 L112.5 484.3 L114.8 481.3 L117.0 478.0 L119.2 477.0 L121.5 479.0 L123.8 479.5 L126.0 483.4 L128.2 486.3 L130.5 488.5 L132.8 486.5 L135.0 484.9 L137.2 482.9 L139.5 478.6 L141.8 476.4 L144.0 475.4 L146.2 478.9 L148.5 479.5 L150.8 481.5 L153.0 480.0 L155.2 479.7 L157.5 479.6 L159.8 480.6 L162.0 476.2 L164.2 474.4 L166.5 473.4 L168.8 477.0 L171.0 476.9 L173.2 476.5 L175.5 479.3 L177.8 481.6 L180.0 480.5 L182.2 478.8 L184.5 476.2 L186.8 477.0 L189.0 473.5 L191.2 474.8 L193.5 475.5 L195.8 480.2 L198.0 480.8 L200.2 481.7 L202.5 481.8 L204.8 482.6 L207.0 482.0 L209.2 479.1 L211.5 476.2 L213.8 473.4 L216.0 476.8 L218.2 478.8 L220.5 480.8 L222.8 479.6 L225.0 478.4 L227.2 477.3 L229.5 475.5 L231.8 474.9 L234.0 475.6 L236.2 476.8 L238.5 476.7 L240.8 477.6 L243.0 479.3 L245.2 479.2 L247.5 477.6 L249.8 475.9 L252.0 474.4 L254.2 472.8 L256.5 471.6 L258.8 471.3 L261.0 470.3 L263.2 468.5 L265.5 467.5 L267.8 465.0 L270.0 464.2 L272.2 462.1 L274.5 460.4 L276.8 457.3 L279.0 456.2 L281.2 455.8 L283.5 456.7 L285.8 459.0 L288.0 460.0 L290.2 460.0 L292.5 458.0 L294.8 457.7 L297.0 456.0 L299.2 454.3 L301.5 451.9 L303.8 450.8 L306.0 449.5 L308.2 451.0 L310.5 453.5 L312.8 454.6 L315.0 456.5 L317.2 460.2 L319.5 462.5 L321.8 461.8 L324.0 460.4 L326.2 460.3 L328.5 460.0 L330.8 459.6 L333.0 458.6 L335.2 458.5 L337.5 460.1 L339.8 462.4 L342.0 462.5 L344.2 463.5 L346.5 465.2 L348.8 467.7 L351.0 469.4 L353.2 471.7 L355.5 473.6 L357.8 475.7 L360.0 477.8 L362.2 480.3 L364.5 482.7 L366.8 485.4 L369.0 487.5 L371.2 490.7 L373.5 491.0 L375.8 493.2 L378.0 488.3 L380.2 486.8 L382.5 483.6 L384.8 482.1 L387.0 479.8 L389.2 479.2 L391.5 479.3 L393.8 478.5 L396.0 478.9 L398.2 483.6 L400.5 485.0 L402.8 486.3 L405.0 481.3 L407.2 483.2 L409.5 482.1 L411.8 483.7 L414.0 482.6 L416.2 484.8 L418.5 483.6 L420.8 482.8 L423.0 484.2 L425.2 486.4 L427.5 487.7 L429.8 484.7 L432.0 483.8 L434.2 483.1 L436.5 484.0 L438.8 485.9 L441.0 489.7 L443.2 489.9 L445.5 486.5 L447.8 482.0 L450.0 480.0 L452.2 479.7 L454.5 482.5 L456.8 486.9 L459.0 491.2 L461.2 490.5 L463.5 488.3 L465.8 489.4 L468.0 486.3 L470.2 487.0 L472.5 482.1 L474.8 486.4 L477.0 487.2 L479.2 493.7 L481.5 494.2 L483.8 496.1 L486.0 494.0 L488.2 494.0 L490.5 494.0 L492.8 492.9 L495.0 493.8 L497.2 495.0 L499.5 498.7 L501.8 502.1 L504.0 502.6 L506.2 501.6 L508.5 499.3 L510.8 498.2 L513.0 499.7 L515.2 499.2 L517.5 501.7 L519.8 500.7 L522.0 501.6 L524.2 501.5 L526.5 500.0 L528.8 501.4 L531.0 500.0 L533.2 501.8 L535.5 502.1 L537.8 506.3 L540.0 508.5 L542.2 507.2 L544.5 502.9 L546.8 502.1 L549.0 501.0 L551.2 502.4 L553.5 503.0 L555.8 507.8 L558.0 506.9 L560.2 505.2 L562.5 503.9 L564.8 502.8 L567.0 504.0 L569.2 505.0 L571.5 508.2 L573.8 512.4 L576.0 514.7 L578.2 513.1 L580.5 510.0" fill="none" stroke="#231f20" stroke-width="3.05" stroke-linejoin="round" stroke-linecap="round"/>
<g stroke="#231f20" stroke-width="3.4" fill="none">
<path d="M94.5 107.2H108.2V537.7H94.5"/>
<path d="M94.5 214.8H108.2"/>
<path d="M94.5 322.5H108.2"/>
<path d="M94.5 430.1H108.2"/>
<path d="M119.4 572.6V559.5H569.6V572.6"/>
<path d="M175.7 559.5V572.6"/>
<path d="M232.0 559.5V572.6"/>
<path d="M288.2 559.5V572.6"/>
<path d="M344.5 559.5V572.6"/>
<path d="M400.8 559.5V572.6"/>
<path d="M457.1 559.5V572.6"/>
<path d="M513.4 559.5V572.6"/>
</g>
<rect x="119" y="103.2" width="56.6" height="8.6" fill="#231f20"/>
<text x="118" y="142.2" font-size="28.3">baseline</text>
<text x="86.3" y="119" font-size="28.3" text-anchor="end">200</text>
<text x="86.3" y="548.6" font-size="28.3" text-anchor="end">0</text>
<text x="231.3" y="609.3" font-size="28.3" text-anchor="middle">-0.5</text>
<text x="344.4" y="609.3" font-size="28.3" text-anchor="middle">0</text>
<text x="457.0" y="609.3" font-size="28.3" text-anchor="middle">0.5</text>
<text x="106.1" y="609.5" font-size="28.3">-<tspan dx="1.1">1</tspan></text>
<text x="563.9" y="609.5" font-size="28.3">1</text>
<path d="M116.5 606.8H123.05V610H116.5ZM126.55 606.8H132V610H126.55ZM563.5 606.8H570.35V610H563.5ZM573.85 606.8H579.5V610H573.85Z" fill="#fff"/>
<text x="344.3" y="649.7" font-size="30.8" text-anchor="middle">Time since initiation (s)</text>
<g transform="translate(32.4 324) rotate(-90)"><text font-size="30.8" text-anchor="middle">Implant speed (mm.s<tspan font-size="27" dy="-14.8">-1</tspan><tspan dy="14.8">)</tspan></text><path d="M136.6 -17H141.8V-14H136.6ZM145 -17H149.6V-14H145Z" fill="#fff"/></g>
<path d="M856.89 311.90 L856.89 308.98 L872.81 308.98 L872.81 308.98 L888.73 308.98 L888.73 311.90 L904.65 311.90 L904.65 300.22 L920.57 300.22 L920.57 297.30 L936.49 297.30 L936.49 268.10 L952.41 268.10 L952.41 238.90 L968.33 238.90 L968.33 189.26 L984.25 189.26 L984.25 224.30 L1000.17 224.30 L1000.17 174.66 L1016.09 174.66 L1016.09 151.30 L1032.01 151.30 L1032.01 168.82 L1047.93 168.82 L1047.93 168.82 L1063.85 168.82 L1063.85 189.26 L1079.77 189.26 L1079.77 212.62 L1095.69 212.62 L1095.69 221.38 L1111.61 221.38 L1111.61 265.18 L1127.53 265.18 L1127.53 276.86 L1143.45 276.86 L1143.45 271.02 L1159.37 271.02 L1159.37 308.98 L1175.29 308.98 L1175.29 306.06 L1191.21 306.06 L1191.21 303.14 L1207.13 303.14 L1207.13 306.06 L1223.05 306.06 L1223.05 306.06 L1238.97 306.06 L1238.97 308.98 L1254.89 308.98 L1254.89 311.90Z" fill="#c5c8cb" stroke="#231f20" stroke-width="2.7" stroke-linejoin="miter"/>
<path d="M872.81 555.90 L872.81 552.99 L888.73 552.99 L888.73 555.90 L904.65 555.90 L904.65 555.90 L920.57 555.90 L920.57 544.27 L936.49 544.27 L936.49 529.74 L952.41 529.74 L952.41 532.64 L968.33 532.64 L968.33 500.67 L984.25 500.67 L984.25 471.60 L1000.17 471.60 L1000.17 433.81 L1016.09 433.81 L1016.09 433.81 L1032.01 433.81 L1032.01 427.99 L1047.93 427.99 L1047.93 416.36 L1063.85 416.36 L1063.85 419.27 L1079.77 419.27 L1079.77 429.45 L1095.69 429.45 L1095.69 436.71 L1111.61 436.71 L1111.61 442.53 L1127.53 442.53 L1127.53 506.48 L1143.45 506.48 L1143.45 486.13 L1159.37 486.13 L1159.37 529.74 L1175.29 529.74 L1175.29 532.64 L1191.21 532.64 L1191.21 550.09 L1207.13 550.09 L1207.13 550.09 L1223.05 550.09 L1223.05 550.09 L1238.97 550.09 L1238.97 550.09 L1254.89 550.09 L1254.89 552.99 L1270.81 552.99 L1270.81 555.90Z" fill="#c5c8cb" stroke="#231f20" stroke-width="2.7" stroke-linejoin="miter"/>
<line x1="1063.9" y1="130" x2="1063.9" y2="311" stroke="#6d6e70" stroke-width="1.3" stroke-dasharray="1.55 2.93"/>
<line x1="1063.9" y1="373" x2="1063.9" y2="555" stroke="#6d6e70" stroke-width="1.3" stroke-dasharray="1.55 2.93"/>
<g stroke="#231f20" stroke-width="3.4" fill="none">
<path d="M740.6 107.4H757.2V312.1H740.6"/>
<path d="M785.3 329.5V312.1H1343V329.5"/>
<path d="M924.7 312.1V329.5"/>
<path d="M1064.1 312.1V329.5"/>
<path d="M1203.6 312.1V329.5"/>
<path d="M740.6 352.3H757.2V556.0H740.6"/>
<path d="M785.3 573.4V556.0H1343V573.4"/>
<path d="M924.7 556.0V573.4"/>
<path d="M1064.1 556.0V573.4"/>
<path d="M1203.6 556.0V573.4"/>
</g>
<text x="732.3" y="118.9" font-size="28.3" text-anchor="end">70</text>
<text x="732.3" y="323.3" font-size="28.3" text-anchor="end">0</text>
<text x="732.3" y="363" font-size="28.3" text-anchor="end">70</text>
<text x="732.3" y="567" font-size="28.3" text-anchor="end">0</text>
<text x="784.6" y="608.6" font-size="28.3" text-anchor="middle">-0.5</text>
<text x="924.4" y="608.6" font-size="28.3" text-anchor="middle">-0.25</text>
<text x="1063.8" y="608.6" font-size="28.3" text-anchor="middle">0</text>
<text x="1203.1" y="608.6" font-size="28.3" text-anchor="middle">0.25</text>
<text x="1341.5" y="608.6" font-size="28.3" text-anchor="middle">0.5</text>
<text x="1064.5" y="648.9" font-size="30.8" text-anchor="middle">Correlation coefficient</text>
<text transform="translate(695.4 209.5) rotate(-90)" font-size="30.6" text-anchor="middle">Count</text>
<text transform="translate(695.4 453.5) rotate(-90)" font-size="30.6" text-anchor="middle">Count</text>
<text x="782" y="193" font-size="28.3">reaction time</text>
<text x="782" y="437.5" font-size="28.3">movement time</text>
<text x="1063.5" y="363" font-size="28.3" text-anchor="middle">n.s.</text>
<path d="M1040.6 128.2H1064" stroke="#231f20" stroke-width="2.8"/>
<path d="M1044.6 112.3L1044.6 106.6M1044.6 112.3L1050.0 110.5M1044.6 112.3L1048.0 116.9M1044.6 112.3L1041.2 116.9M1044.6 112.3L1039.2 110.5" stroke="#231f20" stroke-width="2.5" fill="none"/>
<path d="M1059.0 112.3L1059.0 106.6M1059.0 112.3L1064.4 110.5M1059.0 112.3L1062.4 116.9M1059.0 112.3L1055.6 116.9M1059.0 112.3L1053.6 110.5" stroke="#231f20" stroke-width="2.5" fill="none"/>
</svg></body></html>
